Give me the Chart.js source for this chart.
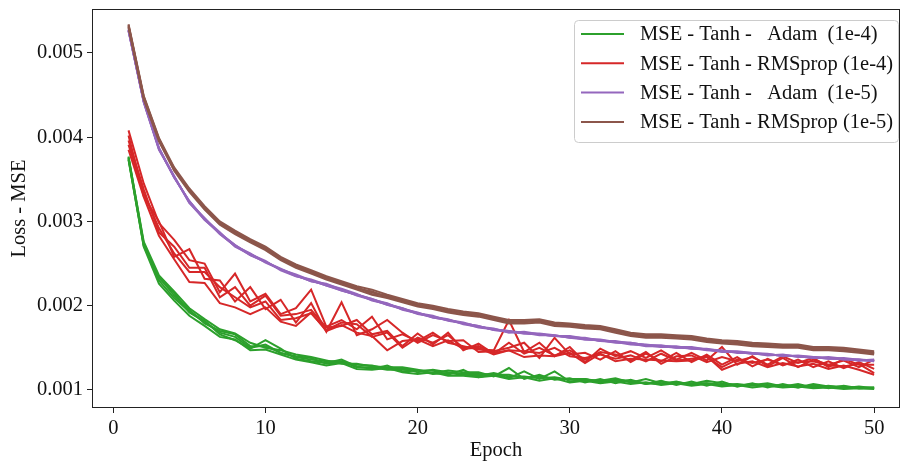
<!DOCTYPE html>
<html>
<head>
<meta charset="utf-8">
<script src="https://cdn.jsdelivr.net/npm/chart.js@4.4.0/dist/chart.umd.min.js"></script>
<style>
  html, body { margin: 0; padding: 0; background: #fff; }
  #wrap { width: 902px; height: 466px; }
</style>
</head>
<body>
<div id="wrap"><canvas id="loss-chart" width="902" height="466"></canvas></div>
<script>
// epochs on the x axis
const epochs = [1,2,3,4,5,6,7,8,9,10,11,12,13,14,15,16,17,18,19,20,21,22,23,24,25,
  26,27,28,29,30,31,32,33,34,35,36,37,38,39,40,41,42,43,44,45,46,47,48,49,50];
const xTicks = [0, 10, 20, 30, 40, 50];
const yTicks = [0.001, 0.002, 0.003, 0.004, 0.005];

const seriesNames = [
  'MSE - Tanh -   Adam  (1e-4)',
  'MSE - Tanh - RMSprop (1e-4)',
  'MSE - Tanh -   Adam  (1e-5)',
  'MSE - Tanh - RMSprop (1e-5)'
];

// five runs per configuration, loss per epoch
const adam1e4Runs = [
  [0.00374,0.00270,0.00226,0.00206,0.00188,0.00176,0.00163,0.00160,0.00147,0.00148,0.00142,0.00136,0.00133,0.00129,0.00132,0.00125,0.00124,0.00126,0.00121,0.00119,0.00121,0.00117,0.00117,0.00115,0.00117,0.00113,0.00115,0.00111,0.00114,0.00109,0.00111,0.00108,0.00110,0.00107,0.00109,0.00106,0.00108,0.00105,0.00107,0.00104,0.00106,0.00103,0.00105,0.00103,0.00104,0.00102,0.00103,0.00101,0.00102,0.00101],
  [0.00376,0.00276,0.00236,0.00217,0.00197,0.00184,0.00172,0.00167,0.00156,0.00150,0.00147,0.00142,0.00139,0.00135,0.00131,0.00131,0.00128,0.00127,0.00127,0.00124,0.00120,0.00123,0.00121,0.00121,0.00116,0.00126,0.00113,0.00118,0.00112,0.00114,0.00109,0.00113,0.00108,0.00112,0.00107,0.00111,0.00106,0.00110,0.00105,0.00110,0.00104,0.00108,0.00103,0.00107,0.00103,0.00106,0.00102,0.00105,0.00102,0.00103],
  [0.00375,0.00272,0.00230,0.00209,0.00193,0.00182,0.00166,0.00159,0.00149,0.00159,0.00149,0.00137,0.00134,0.00132,0.00136,0.00128,0.00125,0.00129,0.00122,0.00123,0.00123,0.00118,0.00124,0.00115,0.00119,0.00114,0.00122,0.00113,0.00122,0.00110,0.00112,0.00111,0.00114,0.00109,0.00113,0.00108,0.00109,0.00107,0.00111,0.00108,0.00106,0.00106,0.00108,0.00104,0.00107,0.00103,0.00105,0.00102,0.00104,0.00102],
  [0.00373,0.00271,0.00234,0.00212,0.00195,0.00179,0.00170,0.00166,0.00152,0.00152,0.00144,0.00140,0.00138,0.00131,0.00133,0.00130,0.00129,0.00125,0.00126,0.00121,0.00124,0.00121,0.00119,0.00119,0.00118,0.00118,0.00114,0.00116,0.00113,0.00113,0.00113,0.00109,0.00111,0.00110,0.00108,0.00107,0.00110,0.00106,0.00108,0.00106,0.00105,0.00107,0.00105,0.00105,0.00103,0.00107,0.00104,0.00103,0.00103,0.00103],
  [0.00377,0.00274,0.00233,0.00215,0.00192,0.00181,0.00168,0.00163,0.00150,0.00154,0.00144,0.00139,0.00136,0.00134,0.00134,0.00127,0.00127,0.00124,0.00124,0.00123,0.00119,0.00120,0.00118,0.00117,0.00120,0.00116,0.00116,0.00114,0.00115,0.00112,0.00113,0.00110,0.00112,0.00111,0.00107,0.00110,0.00107,0.00108,0.00108,0.00106,0.00107,0.00105,0.00106,0.00105,0.00105,0.00104,0.00104,0.00104,0.00102,0.00102]
];

const rmsprop1e4Runs = [
  [0.00408,0.00345,0.00298,0.00278,0.00254,0.00250,0.00216,0.00238,0.00205,0.00214,0.00190,0.00197,0.00219,0.00175,0.00183,0.00172,0.00187,0.00160,0.00166,0.00158,0.00168,0.00156,0.00152,0.00148,0.00147,0.00183,0.00145,0.00156,0.00140,0.00151,0.00133,0.00149,0.00140,0.00146,0.00138,0.00147,0.00136,0.00144,0.00135,0.00151,0.00130,0.00140,0.00128,0.00138,0.00127,0.00136,0.00130,0.00135,0.00127,0.00136],
  [0.00402,0.00330,0.00300,0.00258,0.00267,0.00232,0.00230,0.00205,0.00222,0.00196,0.00207,0.00180,0.00203,0.00169,0.00204,0.00165,0.00172,0.00183,0.00168,0.00156,0.00165,0.00158,0.00159,0.00145,0.00146,0.00150,0.00156,0.00138,0.00162,0.00142,0.00144,0.00136,0.00146,0.00133,0.00143,0.00134,0.00144,0.00133,0.00142,0.00130,0.00139,0.00128,0.00137,0.00129,0.00136,0.00127,0.00134,0.00126,0.00133,0.00125],
  [0.00396,0.00338,0.00287,0.00270,0.00245,0.00245,0.00210,0.00222,0.00200,0.00212,0.00188,0.00190,0.00195,0.00174,0.00176,0.00183,0.00166,0.00170,0.00152,0.00167,0.00154,0.00168,0.00147,0.00155,0.00143,0.00156,0.00143,0.00150,0.00141,0.00147,0.00136,0.00145,0.00142,0.00135,0.00145,0.00131,0.00140,0.00141,0.00133,0.00139,0.00134,0.00139,0.00130,0.00140,0.00132,0.00138,0.00127,0.00137,0.00130,0.00130],
  [0.00391,0.00333,0.00292,0.00262,0.00240,0.00240,0.00222,0.00210,0.00198,0.00205,0.00183,0.00185,0.00191,0.00171,0.00180,0.00178,0.00163,0.00168,0.00150,0.00162,0.00156,0.00165,0.00150,0.00152,0.00144,0.00147,0.00146,0.00144,0.00150,0.00140,0.00138,0.00142,0.00137,0.00141,0.00134,0.00143,0.00135,0.00137,0.00139,0.00127,0.00136,0.00132,0.00136,0.00130,0.00133,0.00134,0.00129,0.00128,0.00131,0.00120],
  [0.00385,0.00329,0.00283,0.00255,0.00228,0.00227,0.00203,0.00198,0.00190,0.00198,0.00181,0.00176,0.00192,0.00170,0.00177,0.00168,0.00164,0.00147,0.00158,0.00160,0.00152,0.00159,0.00149,0.00150,0.00142,0.00147,0.00139,0.00141,0.00140,0.00144,0.00132,0.00143,0.00134,0.00137,0.00136,0.00135,0.00134,0.00135,0.00140,0.00124,0.00131,0.00134,0.00127,0.00132,0.00128,0.00131,0.00125,0.00129,0.00124,0.00118]
];

const adam1e5Runs = [
  [0.00527,0.00443,0.00387,0.00352,0.00324,0.00302,0.00286,0.00272,0.00260,0.00252,0.00244,0.00236,0.00229,0.00225,0.00218,0.00213,0.00208,0.00201,0.00196,0.00192,0.00186,0.00183,0.00180,0.00175,0.00172,0.00170,0.00167,0.00166,0.00164,0.00163,0.00161,0.00158,0.00157,0.00155,0.00154,0.00152,0.00150,0.00150,0.00147,0.00146,0.00145,0.00143,0.00142,0.00141,0.00140,0.00138,0.00138,0.00136,0.00136,0.00134],
  [0.00526,0.00441,0.00385,0.00354,0.00322,0.00304,0.00285,0.00271,0.00262,0.00251,0.00243,0.00237,0.00230,0.00224,0.00219,0.00212,0.00207,0.00203,0.00195,0.00191,0.00188,0.00182,0.00179,0.00176,0.00171,0.00169,0.00168,0.00165,0.00165,0.00162,0.00160,0.00159,0.00156,0.00156,0.00153,0.00151,0.00151,0.00149,0.00148,0.00147,0.00144,0.00144,0.00143,0.00140,0.00141,0.00139,0.00137,0.00137,0.00135,0.00135],
  [0.00528,0.00442,0.00386,0.00353,0.00323,0.00303,0.00287,0.00270,0.00261,0.00253,0.00242,0.00235,0.00231,0.00225,0.00220,0.00214,0.00206,0.00202,0.00197,0.00190,0.00187,0.00184,0.00178,0.00175,0.00173,0.00168,0.00169,0.00166,0.00164,0.00164,0.00161,0.00160,0.00157,0.00154,0.00153,0.00153,0.00150,0.00150,0.00148,0.00146,0.00146,0.00144,0.00141,0.00142,0.00139,0.00139,0.00138,0.00136,0.00136,0.00135],
  [0.00527,0.00442,0.00387,0.00353,0.00322,0.00302,0.00286,0.00272,0.00261,0.00252,0.00243,0.00236,0.00229,0.00226,0.00219,0.00213,0.00208,0.00202,0.00196,0.00191,0.00187,0.00183,0.00179,0.00174,0.00172,0.00169,0.00167,0.00167,0.00165,0.00162,0.00162,0.00158,0.00158,0.00155,0.00152,0.00152,0.00152,0.00149,0.00149,0.00146,0.00145,0.00143,0.00142,0.00141,0.00140,0.00138,0.00139,0.00137,0.00135,0.00136],
  [0.00526,0.00443,0.00386,0.00352,0.00324,0.00303,0.00285,0.00271,0.00260,0.00252,0.00243,0.00235,0.00230,0.00224,0.00218,0.00213,0.00207,0.00201,0.00197,0.00191,0.00186,0.00183,0.00179,0.00176,0.00171,0.00170,0.00168,0.00166,0.00164,0.00163,0.00160,0.00159,0.00157,0.00156,0.00153,0.00152,0.00151,0.00151,0.00148,0.00145,0.00145,0.00144,0.00142,0.00141,0.00140,0.00139,0.00137,0.00138,0.00136,0.00134]
];

const rmsprop1e5Runs = [
  [0.00534,0.00449,0.00399,0.00364,0.00339,0.00318,0.00300,0.00289,0.00279,0.00270,0.00258,0.00249,0.00242,0.00235,0.00229,0.00223,0.00219,0.00213,0.00208,0.00203,0.00200,0.00196,0.00193,0.00191,0.00187,0.00183,0.00183,0.00184,0.00180,0.00179,0.00177,0.00176,0.00172,0.00168,0.00166,0.00166,0.00165,0.00164,0.00161,0.00159,0.00158,0.00156,0.00155,0.00154,0.00154,0.00151,0.00151,0.00150,0.00148,0.00146],
  [0.00530,0.00445,0.00395,0.00360,0.00335,0.00314,0.00296,0.00285,0.00275,0.00266,0.00254,0.00245,0.00238,0.00231,0.00225,0.00219,0.00213,0.00209,0.00204,0.00199,0.00196,0.00192,0.00189,0.00187,0.00183,0.00179,0.00179,0.00180,0.00176,0.00175,0.00173,0.00172,0.00168,0.00164,0.00162,0.00162,0.00161,0.00160,0.00157,0.00155,0.00154,0.00152,0.00151,0.00150,0.00150,0.00147,0.00147,0.00146,0.00144,0.00142],
  [0.00532,0.00447,0.00396,0.00363,0.00336,0.00317,0.00297,0.00288,0.00276,0.00269,0.00255,0.00248,0.00239,0.00234,0.00226,0.00222,0.00214,0.00212,0.00205,0.00202,0.00197,0.00195,0.00190,0.00190,0.00184,0.00182,0.00180,0.00183,0.00177,0.00178,0.00174,0.00175,0.00169,0.00167,0.00163,0.00165,0.00162,0.00163,0.00158,0.00158,0.00155,0.00155,0.00152,0.00153,0.00151,0.00150,0.00148,0.00149,0.00145,0.00145],
  [0.00533,0.00448,0.00398,0.00361,0.00338,0.00315,0.00299,0.00286,0.00278,0.00267,0.00257,0.00246,0.00241,0.00232,0.00228,0.00220,0.00217,0.00210,0.00207,0.00200,0.00199,0.00193,0.00192,0.00188,0.00186,0.00180,0.00182,0.00181,0.00179,0.00176,0.00176,0.00173,0.00171,0.00165,0.00165,0.00163,0.00164,0.00161,0.00160,0.00156,0.00157,0.00153,0.00154,0.00151,0.00153,0.00148,0.00150,0.00147,0.00147,0.00143],
  [0.00531,0.00446,0.00397,0.00362,0.00337,0.00316,0.00298,0.00287,0.00277,0.00268,0.00256,0.00247,0.00240,0.00233,0.00227,0.00221,0.00216,0.00211,0.00206,0.00201,0.00198,0.00194,0.00191,0.00189,0.00185,0.00181,0.00181,0.00182,0.00178,0.00177,0.00175,0.00174,0.00170,0.00166,0.00164,0.00164,0.00163,0.00162,0.00159,0.00157,0.00156,0.00154,0.00153,0.00152,0.00152,0.00149,0.00149,0.00148,0.00146,0.00144]
];

const allRuns = [adam1e4Runs, rmsprop1e4Runs, adam1e5Runs, rmsprop1e5Runs];
const colors = ['#2ca02c', '#d62728', '#9467bd', '#8c564b'];

const fontFamily = "'Liberation Serif', 'DejaVu Serif', serif";
const tickFont = { family: fontFamily, size: 20.5 };
const inkColor = '#111';

// build one line per run
const datasets = [];
allRuns.forEach((runs, s) => {
  runs.forEach(run => {
    datasets.push({
      label: seriesNames[s],
      data: run.map((v, i) => ({ x: epochs[i], y: v })),
      borderColor: colors[s],
      backgroundColor: colors[s],
      borderWidth: 2,
      pointRadius: 0,
      fill: false,
      tension: 0,
      order: 4 - s   // later series sit on top, like matplotlib
    });
  });
});

// matplotlib style frame around the plot area
const frame = {
  id: 'frame',
  afterDraw(chart) {
    const { ctx, chartArea: a } = chart;
    ctx.save();
    ctx.strokeStyle = '#222';
    ctx.lineWidth = 1;
    ctx.strokeRect(Math.round(a.left) + 0.5, Math.round(a.top) + 0.5,
      Math.round(a.right - a.left) - 1, Math.round(a.bottom - a.top) - 1);
    ctx.restore();
  }
};

// legend box drawn inside the top right of the axes
const insideLegend = {
  id: 'insideLegend',
  afterDraw(chart) {
    const { ctx, chartArea: a } = chart;
    const bx = 574, by = a.top + 11, bw = a.right - 1 - bx, bh = 122;
    ctx.save();
    ctx.beginPath();
    ctx.roundRect(bx + 0.5, by + 0.5, bw - 1, bh, 4);
    ctx.fillStyle = 'rgba(255,255,255,0.8)';
    ctx.fill();
    ctx.strokeStyle = '#cccccc';
    ctx.lineWidth = 1;
    ctx.stroke();
    ctx.font = `20.5px ${fontFamily}`;
    ctx.textBaseline = 'middle';
    ctx.textAlign = 'left';
    seriesNames.forEach((name, i) => {
      const y = by + 14 + i * 29.3;
      ctx.strokeStyle = colors[i];
      ctx.lineWidth = 2;
      ctx.beginPath();
      ctx.moveTo(bx + 7, y);
      ctx.lineTo(bx + 50, y);
      ctx.stroke();
      ctx.fillStyle = inkColor;
      ctx.fillText(name, bx + 66, y + 1);
    });
    ctx.restore();
  }
};

new Chart(document.getElementById('loss-chart').getContext('2d'), {
  type: 'line',
  data: { datasets },
  options: {
    responsive: false,
    animation: false,
    devicePixelRatio: 1,
    layout: { padding: { top: 9, right: 2, left: 0, bottom: 0 } },
    plugins: {
      legend: { display: false },
      tooltip: { enabled: false }
    },
    scales: {
      x: {
        type: 'linear',
        min: -1.4,
        max: 51.7,
        afterBuildTicks: (scale) => { scale.ticks = xTicks.map(v => ({ value: v })); },
        afterFit: (scale) => {
          scale.height = 58;
          scale.paddingLeft = 0;
          scale.paddingRight = 0;
        },
        grid: { display: true, drawOnChartArea: false, drawTicks: true, tickLength: 5, tickColor: '#222' },
        border: { display: false },
        ticks: { color: inkColor, font: tickFont, padding: 3, maxRotation: 0,
          callback: (v) => String(v) },
        title: { display: true, text: 'Epoch', color: inkColor, font: tickFont,
          padding: { top: 0, bottom: 3 } }
      },
      y: {
        min: 0.000786,
        max: 0.00552,
        afterBuildTicks: (scale) => { scale.ticks = yTicks.map(v => ({ value: v })); },
        afterFit: (scale) => {
          scale.width = 92;
          scale.paddingTop = 0;
          scale.paddingBottom = 0;
        },
        grid: { display: true, drawOnChartArea: false, drawTicks: true, tickLength: 5, tickColor: '#222' },
        border: { display: false },
        ticks: { color: inkColor, font: tickFont, padding: 4,
          callback: (v) => v.toFixed(3) },
        title: { display: true, text: 'Loss - MSE', color: inkColor, font: tickFont,
          padding: { top: 7, bottom: 0 } }
      }
    }
  },
  plugins: [frame, insideLegend]
});
</script>
</body>
</html>
